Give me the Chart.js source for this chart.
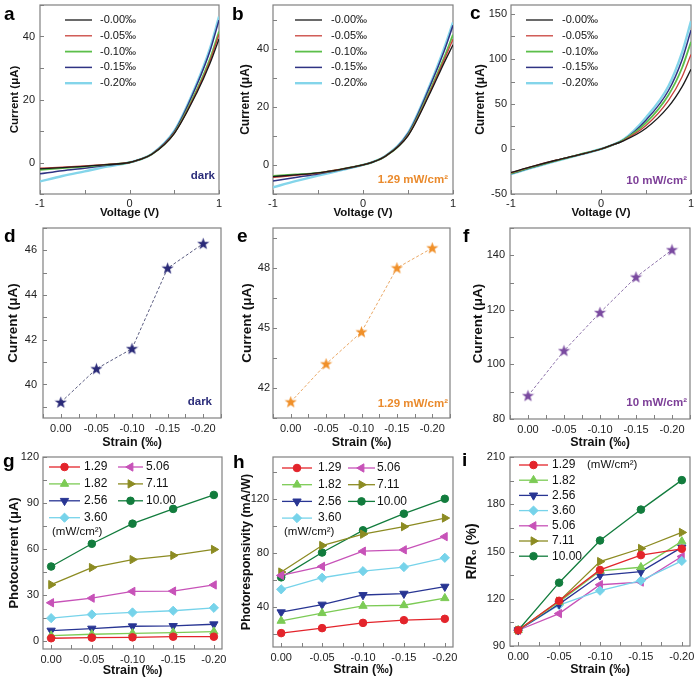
<!DOCTYPE html>
<html>
<head>
<meta charset="utf-8">
<script src="https://cdn.jsdelivr.net/npm/chart.js@4.4.1/dist/chart.umd.min.js"></script>
<style>
  html, body { margin: 0; padding: 0; background: #fff; }
  #fig { position: relative; width: 700px; height: 683px; overflow: hidden; }
  #fig canvas { position: absolute; }
</style>
</head>
<body>
<div id="fig">
  <canvas id="pa" width="228" height="220" style="left:0px;top:0px"></canvas>
  <canvas id="pb" width="232" height="220" style="left:228px;top:0px"></canvas>
  <canvas id="pc" width="240" height="220" style="left:460px;top:0px"></canvas>
  <canvas id="pd" width="228" height="230" style="left:0px;top:220px"></canvas>
  <canvas id="pe" width="232" height="230" style="left:228px;top:220px"></canvas>
  <canvas id="pf" width="240" height="230" style="left:460px;top:220px"></canvas>
  <canvas id="pg" width="228" height="233" style="left:0px;top:450px"></canvas>
  <canvas id="ph" width="232" height="233" style="left:228px;top:450px"></canvas>
  <canvas id="pi" width="240" height="233" style="left:460px;top:450px"></canvas>
</div>
<script>
"use strict"

// I-V sweeps (a-c)
const voltage = [-1, -0.75, -0.5, -0.25, 0, 0.1, 0.25, 0.5, 0.75, 0.9, 1];
const strainNames = ['-0.00‰', '-0.05‰', '-0.10‰', '-0.15‰', '-0.20‰'];
const ivDark = [
    [-2.0, -1.6, -1.2, -0.7, 0, 0.8, 2.6, 9.2, 22.0, 31.5, 39.2],
    [-1.8, -1.5, -1.1, -0.6, 0, 0.8, 2.6, 9.3, 22.5, 32.3, 40.7],
    [-2.3, -1.8, -1.3, -0.7, 0, 0.8, 2.6, 9.4, 23.0, 33.0, 41.6],
    [-3.6, -2.6, -1.8, -0.9, 0, 0.8, 2.7, 9.8, 24.5, 35.5, 45.2],
    [-6.0, -4.3, -2.8, -1.3, 0, 0.8, 2.7, 10.0, 25.0, 36.3, 46.3]
];
const ivLow = [
    [-4.0, -3.4, -2.7, -1.5, 0, 0.9, 3.0, 10.0, 25.0, 35.0, 41.3],
    [-4.3, -3.6, -2.8, -1.5, 0, 0.9, 3.0, 10.2, 25.5, 36.0, 43.2],
    [-3.8, -3.3, -2.7, -1.5, 0, 0.9, 3.0, 10.3, 26.0, 36.8, 44.8],
    [-5.5, -4.3, -3.1, -1.7, 0, 0.9, 3.1, 10.8, 27.5, 39.0, 48.0],
    [-7.7, -5.6, -3.7, -1.9, 0, 0.9, 3.1, 11.0, 28.0, 40.0, 49.0]
];
const ivHigh = [
    [-26.0, -19.0, -12.5, -6.5, 0, 3.5, 9.0, 23, 47, 69, 88.5],
    [-26.5, -19.0, -12.5, -6.5, 0, 3.5, 9.5, 26, 54, 80, 105],
    [-27.0, -19.5, -13.0, -6.5, 0, 3.5, 10.0, 29, 60, 90, 119],
    [-27.5, -20.0, -13.0, -6.7, 0, 3.5, 10.0, 32, 65, 99, 132],
    [-28.0, -20.5, -13.5, -6.8, 0, 3.5, 10.5, 35, 70, 107, 142]
];

// current at 1 V vs strain (d-f)
const strain = [0, -0.05, -0.10, -0.15, -0.20];
const darkPeak = [39.2, 40.7, 41.6, 45.2, 46.3];
const lowPeak = [41.3, 43.2, 44.8, 48.0, 49.0];
const highPeak = [88.5, 105, 119, 132, 142];

// light intensity series (g-i)
const powers = ['1.29', '1.82', '2.56', '3.60', '5.06', '7.11', '10.00'];
const photocurrent = [
    [2.0, 2.4, 2.6, 3.0, 3.0],
    [3.7, 4.6, 5.2, 5.7, 6.3],
    [7.0, 8.3, 9.8, 10.0, 11.1],
    [15.1, 17.5, 18.8, 19.9, 21.8],
    [25.1, 28.1, 32.5, 32.7, 36.7],
    [36.9, 48.0, 53.2, 55.9, 59.8],
    [48.7, 63.5, 76.6, 86.2, 95.3]
];
const responsivity = [
    [20.3, 24.0, 27.9, 29.9, 30.9],
    [29.4, 35.1, 40.5, 41.0, 46.2],
    [35.8, 41.5, 48.6, 49.6, 54.8],
    [52.8, 61.4, 66.3, 69.3, 76.2],
    [63.1, 69.8, 81.1, 82.1, 91.9],
    [65.6, 85.3, 93.7, 99.3, 105.7],
    [61.7, 80.1, 96.6, 108.9, 120.0]
];
const resistanceRatio = [
    [100, 118.7, 138.3, 147.7, 151.7],
    [100, 118.0, 137.7, 140.0, 156.4],
    [100, 116.6, 134.9, 137.2, 152.6],
    [100, 116.0, 125.1, 131.5, 144.0],
    [100, 110.6, 128.9, 130.6, 146.8],
    [100, 118.5, 143.6, 151.9, 162.1],
    [100, 130.2, 157.0, 176.6, 195.3]
];

const FONT = '"Liberation Sans", Arial, Helvetica, sans-serif';
const ivColors = ['#1a1a1a', '#c9413c', '#5cbf4a', '#2f3383', '#84d5ea'];
const ivWidths = [1.3, 1.3, 1.8, 1.5, 2.4];
const powerColors = ['#e3242b', '#7ccb55', '#283593', '#76d3ea', '#c752b8', '#8c8b22', '#127c3d'];
const markerStyles = ['circle', 'triangle', 'triangle', 'rectRot', 'triangle', 'triangle', 'circle'];
const markerTurns = [0, 0, 180, 0, 270, 90, 0];
const markerSizes = [3.8, 4.8, 4.8, 4.6, 4.8, 4.8, 3.8];


function starImage(color) {
    const c = document.createElement('canvas');
    c.width = 13;
    c.height = 13;
    const g = c.getContext('2d');
    g.beginPath();
    for (let k = 0; k < 10; k++) {
        const r = k % 2 ? 2.6 : 6.4;
        const ang = -Math.PI / 2 + k * Math.PI / 5;
        g.lineTo(6.5 + r * Math.cos(ang), 6.8 + r * Math.sin(ang));
    }
    g.closePath();
    g.fillStyle = color;
    g.fill();
    return c;
};

function isMultiple(v, n) {
    return Math.abs(v / n - Math.round(v / n)) < 1e-6;
};

const fmtInt = v => String(Math.round(v));
const fmtStrain = v => (Math.abs(v) < 1e-9 ? 0 : v).toFixed(2);

function axis(which, a, size) {
    return {
        type: 'linear',
        min: a.min,
        max: a.max,
        reverse: !!a.reverse,
        grid: { display: false, drawTicks: false },
        border: { display: false },
        ticks: {
            stepSize: a.step,
            includeBounds: false,
            autoSkip: false,
            maxRotation: 0,
            padding: a.pad,
            color: '#222',
            font: { family: FONT, size: 11 },
            callback: v => isMultiple(v, a.every) ? a.fmt(v) : ''
        },
        title: {
            display: true,
            text: a.title,
            color: '#111',
            font: { family: FONT, size: a.titleSize, weight: 'bold' },
            padding: which === 'x' ? { top: 0, bottom: a.titlePad } : { top: a.titlePad, bottom: 0 }
        },
        afterFit: s => {
            if (which === 'x') s.height = size; else s.width = size;
            s.paddingLeft = 0; s.paddingRight = 0; s.paddingTop = 0; s.paddingBottom = 0;
        }
    };
};

// frame, inward ticks, panel letter, note and legend
const decor = {
    id: 'decor',
    beforeDatasetsDraw(chart) {
        const { ctx, chartArea: a, scales: { x, y } } = chart;
        ctx.save();
        ctx.strokeStyle = '#808080';
        ctx.lineWidth = 1;
        ctx.beginPath();
        x.ticks.forEach(t => {
            const px = Math.round(x.getPixelForValue(t.value)) + 0.5;
            ctx.moveTo(px, a.bottom);
            ctx.lineTo(px, a.bottom - 4);
        });
        y.ticks.forEach(t => {
            const py = Math.round(y.getPixelForValue(t.value)) + 0.5;
            ctx.moveTo(a.left, py);
            ctx.lineTo(a.left + 4, py);
        });
        ctx.stroke();
        ctx.lineWidth = 1.2;
        ctx.strokeRect(a.left, a.top, a.right - a.left, a.bottom - a.top);
        ctx.restore();
    },
    afterDraw(chart, args, o) {
        const { ctx } = chart;
        ctx.save();
        ctx.fillStyle = '#000';
        ctx.font = 'bold 19px ' + FONT;
        ctx.textAlign = 'left';
        ctx.textBaseline = 'alphabetic';
        ctx.fillText(o.letter, o.lx, o.ly);

        ctx.textBaseline = 'middle';
        if (o.note) {
            ctx.font = 'bold 11.5px ' + FONT;
            ctx.fillStyle = o.noteColor;
            ctx.textAlign = 'right';
            ctx.fillText(o.note, o.nx, o.ny);
        }

        const lg = o.legend;
        if (lg) {
            ctx.textAlign = 'left';
            chart.data.datasets.forEach((ds, i) => {
                const c = lg.cols[Math.floor(i / lg.rows)];
                const yy = lg.y + (i % lg.rows) * lg.dy;
                ctx.strokeStyle = ds.borderColor;
                ctx.lineWidth = ds.borderWidth;
                ctx.beginPath();
                ctx.moveTo(c.x1, yy);
                ctx.lineTo(c.x2, yy);
                ctx.stroke();
                if (ds.pointRadius && Chart.helpers && Chart.helpers.drawPoint) {
                    ctx.fillStyle = ds.pointBackgroundColor;
                    ctx.strokeStyle = ds.pointBorderColor;
                    ctx.lineWidth = 1;
                    Chart.helpers.drawPoint(ctx, {
                        pointStyle: ds.pointStyle,
                        rotation: ds.pointRotation,
                        radius: ds.pointRadius,
                        borderWidth: 1
                    }, (c.x1 + c.x2) / 2, yy);
                }
                ctx.fillStyle = '#111';
                ctx.font = lg.size + 'px ' + FONT;
                ctx.fillText(ds.label, c.t, yy);
            });
            if (lg.unit) {
                ctx.fillStyle = '#111';
                ctx.font = lg.unitSize + 'px ' + FONT;
                ctx.fillText(lg.unit, lg.ux, lg.uy);
            }
        }
        ctx.restore();
    }
};

function ivSets(curves) {
    return curves.map((cur, i) => ({
        label: strainNames[i],
        data: voltage.map((v, k) => ({ x: v, y: cur[k] })),
        borderColor: ivColors[i],
        borderWidth: ivWidths[i],
        pointRadius: 0,
        cubicInterpolationMode: 'monotone',
        fill: false
    }));
};

function strainSet(values, starColor, lineColor) {
    return [{
        label: 'I',
        data: strain.map((s, k) => ({ x: s, y: values[k] })),
        borderColor: lineColor,
        borderWidth: 1,
        borderDash: [3, 2],
        pointStyle: starImage(starColor),
        pointRadius: 6
    }];
};

function powerSets(rows) {
    return rows.map((r, i) => ({
        label: powers[i],
        data: strain.map((s, k) => ({ x: s, y: r[k] })),
        borderColor: powerColors[i],
        backgroundColor: powerColors[i],
        pointBackgroundColor: powerColors[i],
        pointBorderColor: powerColors[i],
        borderWidth: 1.3,
        pointStyle: markerStyles[i],
        pointRotation: markerTurns[i],
        pointRadius: markerSizes[i],
        pointBorderWidth: 1
    }));
};

// box = [y-axis width, top padding, right padding, x-axis height]
function panel(id, box, datasets, xa, ya, deco) {
    return new Chart(document.getElementById(id), {
        type: 'line',
        data: { datasets: datasets },
        options: {
            responsive: false,
            animation: false,
            devicePixelRatio: 1,
            layout: { padding: { left: 0, top: box[1], right: box[2], bottom: 0 } },
            plugins: { legend: { display: false }, tooltip: { enabled: false }, decor: deco },
            scales: { x: axis('x', xa, box[3]), y: axis('y', ya, box[0]) }
        },
        plugins: [decor]
    });
};

const voltAxis = { min: -1, max: 1, step: 0.5, every: 1, fmt: fmtInt, title: 'Voltage (V)', titleSize: 11.5, pad: 3, titlePad: 0 };
const strainAxis = (pad, titlePad, lo, hi) => ({ min: lo, max: hi, reverse: true, step: 0.025, every: 0.05, fmt: fmtStrain, title: 'Strain (‰)', titleSize: 12.5, pad: pad, titlePad: titlePad });
const ivLegend = (x1, x2, t) => ({ rows: 5, y: 20, dy: 15.8, size: 11, cols: [{ x1: x1, x2: x2, t: t }] });

panel('pa', [40, 5, 9, 26], ivSets(ivDark), voltAxis,
    { min: -10, max: 50, step: 10, every: 20, fmt: fmtInt, title: 'Current (μA)', titleSize: 11.5, pad: 5, titlePad: 8 },
    { letter: 'a', lx: 4, ly: 20, note: 'dark', noteColor: '#2b2d7a', nx: 215, ny: 176, legend: ivLegend(65, 92, 100) });

panel('pb', [45, 5, 7, 26], ivSets(ivLow), voltAxis,
    { min: -10, max: 55, step: 10, every: 20, fmt: fmtInt, title: 'Current (μA)', titleSize: 12, pad: 4, titlePad: 10 },
    { letter: 'b', lx: 4, ly: 20, note: '1.29 mW/cm²', noteColor: '#ea8a2c', nx: 220, ny: 180, legend: ivLegend(67, 94, 103) });

panel('pc', [51, 5, 9, 26], ivSets(ivHigh), voltAxis,
    { min: -50, max: 160, step: 25, every: 50, fmt: fmtInt, title: 'Current (μA)', titleSize: 12, pad: 4, titlePad: 13 },
    { letter: 'c', lx: 10, ly: 19, note: '10 mW/cm²', noteColor: '#7d3f98', nx: 227, ny: 181, legend: ivLegend(66, 93, 102) });

panel('pd', [43, 8, 6, 32], strainSet(darkPeak, '#2a2a78', '#5a5c80'), strainAxis(4, 0, -0.225, 0.025),
    { min: 38.5, max: 47, step: 1, every: 2, fmt: fmtInt, title: 'Current (μA)', titleSize: 13.5, pad: 6, titlePad: 5 },
    { letter: 'd', lx: 4, ly: 22, note: 'dark', noteColor: '#2b2d7a', nx: 212, ny: 182 });

panel('pe', [45, 8, 10, 32], strainSet(lowPeak, '#f0902a', '#eaa866'), strainAxis(4, 0, -0.225, 0.025),
    { min: 40.5, max: 50, step: 1.5, every: 3, fmt: fmtInt, title: 'Current (μA)', titleSize: 13.5, pad: 3, titlePad: 11 },
    { letter: 'e', lx: 9, ly: 22, note: '1.29 mW/cm²', noteColor: '#ea8a2c', nx: 220, ny: 184 });

panel('pf', [50, 8, 10, 31], strainSet(highPeak, '#7a4aa0', '#8d72aa'), strainAxis(4, 0, -0.225, 0.025),
    { min: 80, max: 150, step: 10, every: 20, fmt: fmtInt, title: 'Current (μA)', titleSize: 13.5, pad: 5, titlePad: 10.5 },
    { letter: 'f', lx: 3, ly: 22, note: '10 mW/cm²', noteColor: '#7d3f98', nx: 227, ny: 183 });

panel('pg', [43, 7, 6, 34], powerSets(photocurrent), strainAxis(4, 5, -0.21, 0.01),
    { min: -5, max: 120, step: 15, every: 30, fmt: fmtInt, title: 'Photocurrent (μA)', titleSize: 13, pad: 4, titlePad: 7 },
    { letter: 'g', lx: 3, ly: 17,
      legend: { rows: 4, y: 17, dy: 16.9, size: 12, cols: [{ x1: 49, x2: 80, t: 84 }, { x1: 118, x2: 143, t: 146 }], unit: '(mW/cm²)', unitSize: 11.5, ux: 52, uy: 82 } });

panel('ph', [45, 7, 7, 36], powerSets(responsivity), strainAxis(4, 6, -0.21, 0.01),
    { min: 10, max: 151, step: 20, every: 40, fmt: fmtInt, title: 'Photoresponsivity (mA/W)', titleSize: 12.5, pad: 4, titlePad: 11 },
    { letter: 'h', lx: 5, ly: 18,
      legend: { rows: 4, y: 18, dy: 16.7, size: 12, cols: [{ x1: 54, x2: 84, t: 90 }, { x1: 120, x2: 147, t: 149 }], unit: '(mW/cm²)', unitSize: 11.5, ux: 56, uy: 82 } });

panel('pi', [50, 7, 10, 37], powerSets(resistanceRatio), strainAxis(4, 6, -0.21, 0.01),
    { min: 90, max: 210, step: 15, every: 30, fmt: fmtInt, title: 'R/R₀ (%)', titleSize: 14, pad: 5, titlePad: 4 },
    { letter: 'i', lx: 2, ly: 16,
      legend: { rows: 7, y: 15, dy: 15.2, size: 12, cols: [{ x1: 59, x2: 88, t: 92 }], unit: '(mW/cm²)', unitSize: 11.5, ux: 127, uy: 15 } });
</script>
</body>
</html>
